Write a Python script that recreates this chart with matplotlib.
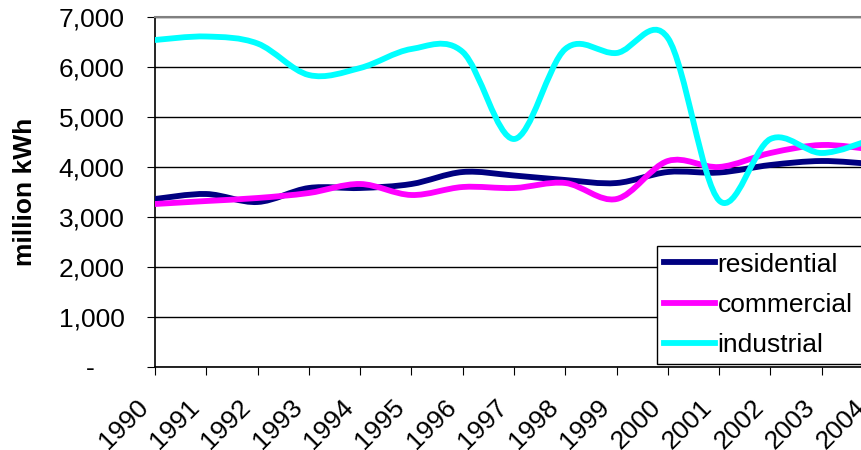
import matplotlib
matplotlib.use("Agg")
import matplotlib.pyplot as plt
from matplotlib.path import Path
from matplotlib.patches import PathPatch
from matplotlib.lines import Line2D
from matplotlib.ticker import FuncFormatter
from matplotlib.transforms import ScaledTranslation

years = list(range(1990, 2005))
residential = [3360, 3460, 3300, 3580, 3580, 3660, 3900, 3830, 3740, 3680, 3900, 3890, 4040, 4120, 4060]
commercial = [3260, 3320, 3380, 3480, 3660, 3440, 3600, 3580, 3680, 3360, 4120, 4000, 4280, 4440, 4350]
industrial = [6540, 6610, 6470, 5840, 5980, 6360, 6300, 4560, 6360, 6280, 6580, 3330, 4560, 4280, 4560]

series = [("residential", residential, "#000080"),
          ("commercial", commercial, "#FF00FF"),
          ("industrial", industrial, "#00FFFF")]

plt.rcParams['font.family'] = ['Liberation Sans', 'DejaVu Sans']
FS = 19
LW = 4.2


def smooth_path(xs, ys):
    # curva suavizada tipo Excel (bezier, tension 1/6)
    n = len(xs)
    pts = list(zip(xs, ys))
    verts = [pts[0]]
    codes = [Path.MOVETO]
    for i in range(n - 1):
        p0 = pts[max(i - 1, 0)]
        p1 = pts[i]
        p2 = pts[i + 1]
        p3 = pts[min(i + 2, n - 1)]
        c1 = (p1[0] + (p2[0] - p0[0]) / 6, p1[1] + (p2[1] - p0[1]) / 6)
        c2 = (p2[0] - (p3[0] - p1[0]) / 6, p2[1] - (p3[1] - p1[1]) / 6)
        verts += [c1, c2, p2]
        codes += [Path.CURVE4] * 3
    return Path(verts, codes)


fig = plt.figure(figsize=(8.62, 4.5), dpi=100)
ax = fig.add_axes([155 / 862, 1 - 367 / 450, (873 - 155) / 862, (367 - 17) / 450])

handles = []
for name, vals, color in series:
    patch = PathPatch(smooth_path(years, vals), fill=False, edgecolor=color,
                      lw=LW, capstyle='round', joinstyle='round', zorder=3)
    ax.add_patch(patch)
    handles.append(Line2D([], [], color=color, lw=LW, label=name))

ax.set_xlim(1990, 2004)
ax.set_ylim(0, 7000)
ax.set_xticks(years)
ax.set_xticklabels([str(y) for y in years], rotation=45, ha='right',
                   rotation_mode='anchor', fontsize=FS)
ax.set_yticks(range(0, 8000, 1000))
ax.yaxis.set_major_formatter(FuncFormatter(lambda v, p: "-" if v == 0 else f"{int(v):,}"))
ax.tick_params(axis='y', labelsize=FS, length=6, direction='out', pad=16)
ax.tick_params(axis='x', length=6, direction='out', pad=14)

# desplazar etiquetas de años a la izquierda (como en Excel)
shift = ScaledTranslation(-19 / 100, 0, fig.dpi_scale_trans)
for lab in ax.get_xticklabels():
    lab.set_transform(lab.get_transform() + shift)
# el guion del cero queda mas a la izquierda
tick0 = ax.yaxis.get_major_ticks()[0]
tick0.label1.set_transform(tick0.label1.get_transform()
                           + ScaledTranslation(-30 / 100, 0, fig.dpi_scale_trans))

ax.grid(axis='y', color='black', lw=1)
ax.set_axisbelow(True)
ax.spines['top'].set_color('#808080')
ax.spines['top'].set_linewidth(1.5)
ax.spines['right'].set_visible(False)
ax.spines['left'].set_linewidth(1.2)
ax.spines['bottom'].set_linewidth(1.2)

fig.text(25 / 862, 1 - 192 / 450, "million kWh", rotation=90, fontsize=FS,
         fontweight='bold', ha='center', va='center')

leg = ax.legend(handles=handles, loc='upper left', mode='expand',
                bbox_to_anchor=(657 / 862, 1 - 246 / 450, (880 - 657) / 862, 0),
                bbox_transform=fig.transFigure, fontsize=FS, frameon=True,
                fancybox=False, edgecolor='black', framealpha=1,
                handlelength=1.95, handletextpad=0.1, labelspacing=0.62,
                borderpad=0.25, borderaxespad=0)
leg.get_frame().set_linewidth(1)

fig.savefig("out.png", dpi=100)
